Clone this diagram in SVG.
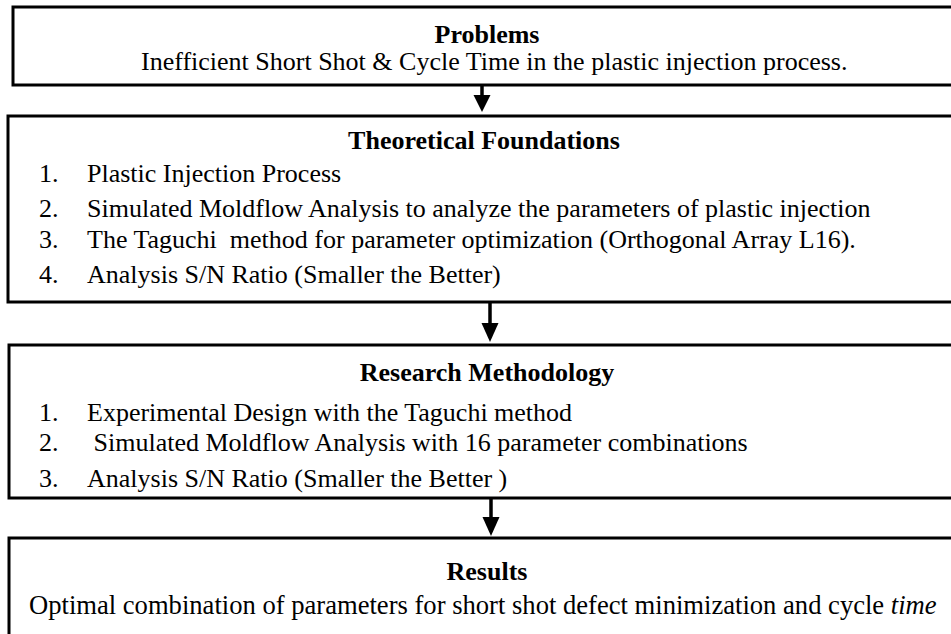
<svg xmlns="http://www.w3.org/2000/svg" width="951" height="634" viewBox="0 0 951 634">
  <defs>
    <style>
      .box { fill: #ffffff; stroke: #000000; stroke-width: 3; }
      .head { font-family: "Liberation Serif", "Times New Roman", serif; font-size: 26px; font-weight: bold; fill: #000; text-anchor: middle; }
      .txt { font-family: "Liberation Serif", "Times New Roman", serif; font-size: 26px; fill: #000; white-space: pre; }
      .shaft { stroke: #000; stroke-width: 3.5; fill: none; }
      .tip { fill: #000; stroke: none; }
    </style>
  </defs>
  <rect x="0" y="0" width="951" height="634" fill="#ffffff"/>

  <g id="node-problems">
    <rect class="box" x="13" y="7" width="960" height="78"/>
    <text class="head" x="487" y="43">Problems</text>
    <text class="txt" x="141" y="70">Inefficient Short Shot &amp; Cycle Time in the plastic injection process.</text>
  </g>

  <g id="node-theoretical">
    <rect class="box" x="8" y="116" width="965" height="186"/>
    <text class="head" x="484" y="149">Theoretical Foundations</text>
    <text class="txt" x="39" y="182">1.</text>
    <text class="txt" x="87" y="182">Plastic Injection Process</text>
    <text class="txt" x="39" y="217">2.</text>
    <text class="txt" x="87" y="217">Simulated Moldflow Analysis to analyze the parameters of plastic injection</text>
    <text class="txt" x="39" y="248">3.</text>
    <text class="txt" x="87" y="248">The Taguchi  method for parameter optimization (Orthogonal Array L16).</text>
    <text class="txt" x="39" y="283">4.</text>
    <text class="txt" x="87" y="283">Analysis S/N Ratio (Smaller the Better)</text>
  </g>

  <g id="node-methodology">
    <rect class="box" x="9" y="345" width="964" height="153"/>
    <text class="head" x="487" y="381">Research Methodology</text>
    <text class="txt" x="39" y="421">1.</text>
    <text class="txt" x="87" y="421">Experimental Design with the Taguchi method</text>
    <text class="txt" x="39" y="451">2.</text>
    <text class="txt" x="87" y="451"> Simulated Moldflow Analysis with 16 parameter combinations</text>
    <text class="txt" x="39" y="487">3.</text>
    <text class="txt" x="87" y="487">Analysis S/N Ratio (Smaller the Better )</text>
  </g>

  <g id="node-results">
    <rect class="box" x="9" y="538" width="964" height="130"/>
    <text class="head" x="487" y="580">Results</text>
    <text class="txt" x="29" y="614" style="font-size:26.6px">Optimal combination of parameters for short shot defect minimization and cycle <tspan font-style="italic">time</tspan></text>
  </g>

  <g id="connectors">
    <line class="shaft" x1="482" y1="86" x2="482" y2="97"/>
    <polygon class="tip" points="473.5,95 490.5,95 482,112"/>
    <line class="shaft" x1="490" y1="303" x2="490" y2="325"/>
    <polygon class="tip" points="481.5,323 498.5,323 490,342"/>
    <line class="shaft" x1="491" y1="499" x2="491" y2="519"/>
    <polygon class="tip" points="482.5,517 499.5,517 491,536"/>
  </g>
</svg>
